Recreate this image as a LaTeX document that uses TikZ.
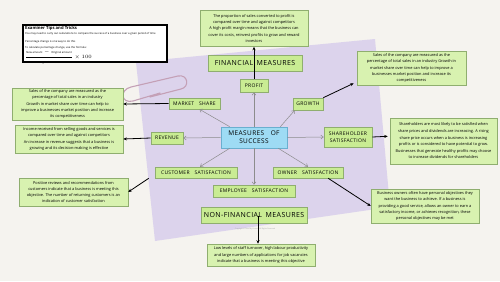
\documentclass[tikz,border=0pt]{standalone}
\usepackage{fontspec}
\setmainfont{Open Sans}
\newfontfamily\labfont[LetterSpace=6]{Open Sans}
\usetikzlibrary{arrows.meta,shadows,calc}
\definecolor{bg}{HTML}{F5F3EF}
\definecolor{lav}{HTML}{DCD3EC}
\definecolor{lgreen}{HTML}{C9EC93}
\definecolor{tgreen}{HTML}{D8F2B0}
\definecolor{gline}{HTML}{8FAE6F}
\definecolor{lblue}{HTML}{9EDBF4}
\definecolor{bline}{HTML}{6AAFCF}
\definecolor{clipc}{HTML}{C4A0B6}
\begin{document}
\begin{tikzpicture}[x=1pt,y=-1pt,
 lab/.style={draw=gline, fill=lgreen, line width=0.6pt, inner sep=0pt, align=center,
   font=\labfont\fontsize{5}{6.5}\selectfont},
 biglab/.style={lab, font=\labfont\fontsize{7}{8}\selectfont},
 tbox/.style={draw=gline, fill=tgreen, line width=0.5pt, inner sep=0pt, align=center,
   font=\fontsize{3.9}{6.2}\selectfont,
   drop shadow={shadow xshift=0.8pt, shadow yshift=-0.8pt, opacity=0.25}},
 blk/.style={-{Stealth[length=3.5pt,width=3pt]}, line width=0.8pt, black},
 gry/.style={-{Straight Barb[length=2.5pt,width=4pt]}, line width=0.5pt, black!45}
]
\useasboundingbox (0,0) rectangle (500,281);
\fill[bg] (0,0) rectangle (500,281);
\fill[lav] (136,62) -- (375,39) -- (390,207) -- (155,241) -- cycle;
\draw[clipc, line width=1.1pt, line cap=round] (160,93) -- (133,101) .. controls (121,104) and (119,90) .. (131,87) -- (178,76) .. controls (188,74) and (190,87) .. (181,89) -- (150,97);

% examiner tips
\node[draw=black, fill=white, line width=1.3pt, minimum width=144pt, minimum height=37pt,
  drop shadow={shadow xshift=0.8pt, shadow yshift=-0.8pt, opacity=0.25}] (tips) at (95,43.5) {};
\node[anchor=west, inner sep=0pt, font=\bfseries\fontsize{4.2}{5}\selectfont] (tipsT) at (25,28) {Examiner Tips and Tricks};
\node[anchor=west, inner sep=0pt, font=\fontsize{2.7}{3}\selectfont] (tips1) at (25,34) {You may need to carry out calculations to compare the success of a business over a given period of time};
\node[anchor=west, inner sep=0pt, font=\fontsize{2.7}{3}\selectfont] (tips2) at (25,41.5) {Percentage change is one way to do this};
\node[anchor=west, inner sep=0pt, font=\fontsize{2.7}{3}\selectfont] (tips3) at (25,48) {To calculate percentage change, use the formula:};
\node[anchor=west, inner sep=0pt, font=\fontsize{2.7}{3}\selectfont] (tips4) at (25,57) {$\displaystyle\frac{\mbox{New amount} - \mbox{Original amount}}{\mbox{Original amount}}\times 100$};

% grey arrows drawn first
\coordinate (dummy) at (0,0);
\node[lab, minimum width=28pt, minimum height=13pt] (profit) at (254,85.5) {PROFIT};
\node[lab, minimum width=51pt, minimum height=11pt] (ms) at (194.5,103.5) {MARKET\quad SHARE};
\node[lab, minimum width=30pt, minimum height=12pt] (gr) at (308,104) {GROWTH};
\node[lab, minimum width=32pt, minimum height=12pt] (rev) at (167,138) {REVENUE};
\node[lab, minimum width=48pt, minimum height=20pt] (sh) at (348,137) {SHAREHOLDER\\SATISFACTION};
\node[lab, minimum width=82pt, minimum height=11pt] (cs) at (196,172.5) {CUSTOMER\quad SATISFACTION};
\node[lab, minimum width=70pt, minimum height=11pt] (os) at (308,172.5) {OWNER\quad SATISFACTION};
\node[lab, minimum width=82pt, minimum height=12pt] (emp) at (254,191) {EMPLOYEE\quad SATISFACTION};
\node[draw=bline, fill=lblue, line width=0.6pt, inner sep=0pt, align=center,
  font=\labfont\fontsize{6.5}{8}\selectfont, minimum width=66pt, minimum height=21pt] (mos) at (254,137.5) {MEASURES\quad OF\\SUCCESS};
\node[biglab, minimum width=94pt, minimum height=16pt] (fin) at (255,63) {FINANCIAL\enspace MEASURES};
\node[biglab, minimum width=106pt, minimum height=16pt] (nf) at (254,215) {NON-FINANCIAL\enspace MEASURES};
\node[inner sep=0pt, text=black!35, font=\fontsize{1.8}{2}\selectfont] (copy) at (255,229) {Copyright \textcopyright\ Save My Exams. All Rights Reserved};

\draw[gry] (mos.north) -- (profit.south);
\draw[gry] ([xshift=9pt]mos.north west) -- ([xshift=5pt]ms.south);
\draw[gry] ([xshift=-7pt]mos.north east) -- ([xshift=2pt]gr.south west);
\draw[gry] (mos.west) -- (rev.east);
\draw[gry] (mos.east) -- (sh.west);
\draw[gry] ([xshift=9pt]mos.south west) -- ([xshift=4pt]cs.north);
\draw[gry] ([xshift=-9pt]mos.south east) -- (os.north);
\draw[gry] (mos.south) -- (emp.north);

% text boxes
\node[tbox, minimum width=108pt, minimum height=36pt] (topbox) at (254,28.5) {The proportion of sales converted to profit is\\compared over time and against competitors\\A high profit margin means that the business can\\cover its costs, reinvest profits to grow and reward\\investors};
\node[tbox, minimum width=109pt, minimum height=34pt] (grbox) at (411.5,68) {Sales of the company are measured as the\\percentage of total sales in an industry Growth in\\market share over time can help to improve a\\businesses market position and increase its\\competitiveness};
\node[tbox, minimum width=107pt, minimum height=46pt, font=\fontsize{3.9}{6.6}\selectfont] (shbox) at (443.5,141) {Shareholders are most likely to be satisfied when\\share prices and dividends are increasing. A rising\\share price occurs when a business is increasing\\profits or is considered to have potential to grow.\\Businesses that generate healthy profits may choose\\to increase dividends for shareholders};
\node[tbox, minimum width=108pt, minimum height=34pt] (owbox) at (425,206) {Business owners often have personal objectives they\\want the business to achieve. If a business is\\providing a good service, allows an owner to earn a\\satisfactory income, or achieves recognition, these\\personal objectives may be met};
\node[tbox, minimum width=108pt, minimum height=22pt] (bbox) at (261,255) {Low levels of staff turnover, high labour productivity\\and large numbers of applications for job vacancies\\indicate that a business is meeting this objective};
\node[tbox, minimum width=111pt, minimum height=32pt] (msbox) at (67.5,104) {Sales of the company are measured as the\\percentage of total sales in an industry\\Growth in market share over time can help to\\improve a businesses market position and increase\\its competitiveness};
\node[tbox, minimum width=108pt, minimum height=28pt] (revbox) at (69,139) {Income received from selling goods and services is\\compared over time and against competitors\\An increase in revenue suggests that a business is\\growing and its decision-making is effective};
\node[tbox, minimum width=109pt, minimum height=28pt] (csbox) at (73.5,192) {Positive reviews and recommendations from\\customers indicate that a business is meeting this\\objective. The number of returning customers is an\\indication of customer satisfaction};

% black arrows
\draw[blk] (profit.north) -- (topbox.south);
\draw[blk] (ms.west) -- (msbox.east);
\draw[blk] (rev.west) -- (revbox.east);
\draw[blk] ([xshift=-6pt]cs.south west) -- (csbox.east);
\draw[blk] (gr.north east) -- ([xshift=-3pt,yshift=2pt]grbox.south west);
\draw[blk] (sh.east) -- ([xshift=-2pt]shbox.175);
\draw[blk] (os.-16) -- (owbox.west);
\draw[blk] ([xshift=4pt,yshift=-1pt]nf.center) -- ([xshift=-3pt]bbox.north);
\end{tikzpicture}
\end{document}
